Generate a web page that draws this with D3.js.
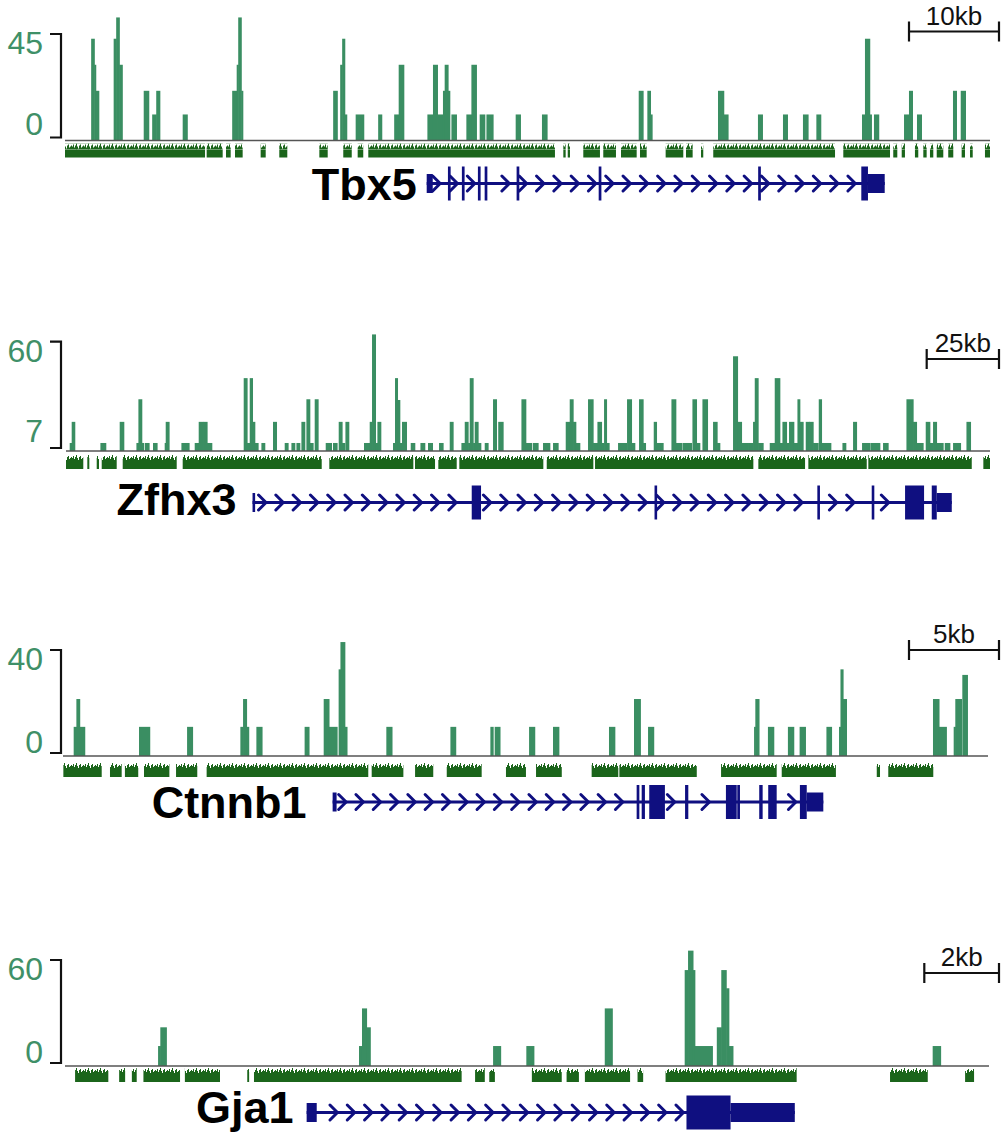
<!DOCTYPE html>
<html>
<head>
<meta charset="utf-8">
<script src="https://cdn.jsdelivr.net/npm/d3@7"></script>
<style>
  body { margin: 0; background: #fff; }
  svg { display: block; font-family: "Liberation Sans", Arial, sans-serif; }
</style>
</head>
<body>
<div id="chart"></div>
<script>
// ---- data (positions in kb from left edge of window, values = signal) ----
const tbx5Bars = [
  [2.94,3.28,43],[3.28,3.44,32],[3.44,3.78,21],
  [5.44,5.72,43],[5.72,6.06,52],[6.06,6.39,32],
  [8.78,9.33,21],
  [9.72,10.17,11],[10.17,10.56,21],
  [13.11,13.61,11],
  [18.61,19.11,21],[19.11,19.28,32],[19.28,19.61,52],[19.61,19.78,21],
  [29.83,30.28,21],
  [30.61,30.83,32],[30.83,31.11,43],[31.11,31.33,11],
  [32.33,33.22,11],
  [34.83,35.22,11],
  [36.61,37.11,11],[37.11,37.67,32],
  [40.30,40.92,11],[40.92,41.41,32],[41.41,42.03,11],[42.03,42.22,21],[42.22,42.59,32],[42.59,42.78,21],[42.97,43.52,11],
  [44.63,45.19,11],[45.19,45.74,32],[46.11,46.67,11],[46.86,47.59,11],
  [50.11,50.63,11],
  [53.03,53.59,11],
  [63.78,64.26,21],[64.74,65.08,21],[65.08,65.26,11],
  [72.59,73.22,21],[73.22,73.70,11],
  [77.03,77.52,11],
  [79.81,80.30,11],
  [82.03,82.59,11],
  [83.52,84.00,11],
  [88.59,88.92,11],[88.92,89.44,43],[89.44,89.63,11],[89.92,90.44,11],
  [93.26,93.81,11],[93.81,94.19,21],[94.70,95.19,11],
  [98.70,99.08,21],[99.56,100.08,21]
];
const tbx5Cons = [
  [0,15.56],[15.74,17.52],[17.89,18.41],[18.89,19.74],[21.74,22.30],[23.81,24.70],[28.26,29.19],
  [30.92,31.86],[32.52,33.14],[33.70,54.44],[55.37,55.63],[55.86,56.11],[57.59,59.44],[59.81,61.22],
  [61.78,63.52],[63.89,64.63],[66.74,68.70],[69.00,69.74],[70.67,70.92],[72.03,85.56],[86.48,91.67],
  [92.03,92.48],[92.97,93.33],[94.44,94.81],[95.37,95.74],[96.11,96.48],[96.86,97.59],[98.14,98.70],
  [99.63,100.0],[100.56,100.86],[102.22,102.78]
];
const tbx5Exons = [
  ["utr",40.19,40.86],["cds",42.55,42.85],["cds",44.1,44.4],["cds",45.88,46.18],["cds",46.63,46.93],
  ["cds",50.18,50.48],["cds",59.3,59.6],["cds",77.02,77.32],["cds",88.48,89.22],["utr",89.22,91.08]
];

const zfhx3Bars = [
  [1.38,2.07,4.4],[2.07,3.11,16],
  [12.0,13.83,4.4],
  [18.67,20.06,16],
  [24.45,25.14,4.4],[25.14,26.28,28.4],[26.28,26.97,4.4],[27.42,28.81,4.4],[30.19,31.57,4.4],
  [34.23,34.58,4.4],[34.58,35.72,16],
  [40.01,42.64,4.4],
  [44.61,45.99,4.4],[45.99,47.37,16],[47.48,48.86,16],[48.86,50.49,4.4],
  [61.55,62.69,40],[62.69,63.63,4.4],[63.63,64.56,40],[64.56,65.36,16],[65.36,66.5,4.4],[67.67,68.81,4.4],
  [71.68,72.86,16],[75.73,76.87,4.4],[78.05,79.19,4.4],[79.78,80.92,4.4],[81.5,82.64,16],[83.23,84.38,28.4],[84.38,85.52,4.4],[86.1,87.25,28.4],
  [89.91,91.88,4.4],[92.43,93.81,4.4],[94.4,95.54,16],[95.54,96.48,4.4],[96.72,97.86,16],
  [103.15,105.12,4.4],[105.12,105.92,16],[105.92,107.09,64],[107.09,107.78,4.4],[107.78,108.93,16],
  [113.18,113.87,4.4],[113.87,114.7,40],[114.7,115.5,28],[115.5,116.29,4.4],[116.29,117.81,16],
  [119.3,120.68,4.4],[122.66,124.14,4.4],[125.28,126.8,4.4],[129.09,130.47,4.4],[132.79,133.93,16],
  [136.83,137.98,4.4],[137.98,139.12,16],[139.12,139.71,4.4],[139.71,140.85,40],[140.85,141.43,4.4],[141.43,142.57,16],[142.57,143.51,4.4],[144.89,146.03,4.4],[147.76,148.93,28.4],[149.56,151.22,16],
  [157.58,159.07,28.4],[159.07,161.04,4.4],[161.49,163.32,4.4],[165.05,167.37,4.4],[168.51,170.24,4.4],
  [172.9,174.28,16],[174.28,175.43,28.4],[175.43,176.36,16],[176.36,177.74,4.4],
  [180.61,182.34,28.4],[182.34,183.86,4.4],[183.86,185.25,16],[185.25,186.15,4.4],[186.15,186.98,28.4],[186.98,187.88,4.4],
  [190.99,193.89,4.4],[194.1,195.62,28.4],[195.62,196.76,4.4],[198.25,199.63,28.4],[199.63,200.46,4.4],
  [203.33,204.26,16],[204.26,206.55,4.4],
  [209.45,210.94,28.4],[210.94,212.91,4.4],[213.25,216.36,4.4],[216.71,218.09,28.4],[218.09,219.23,4.4],[220.17,221.9,28.4],[223.84,225.22,16],[225.22,226.15,4.4],
  [230.75,232.28,52],[232.28,233.66,16],[233.66,235.94,4.4],[235.94,237.67,4.4],[237.67,238.26,16],[238.26,239.4,40],[239.4,241.13,4.4],
  [243.44,245.17,4.4],[245.17,246.9,40],[246.9,247.83,4.4],[247.83,249.22,16],[249.22,250.11,4.4],[250.11,251.74,16],[251.74,253.02,4.4],[253.02,253.82,28.4],[253.82,254.96,16],[255.89,257.03,16],[257.03,258.42,16],[258.42,260.15,4.4],[260.39,261.32,28.4],[261.32,264.54,4.4],
  [268.58,269.72,4.4],[272.25,273.43,16],[275.36,278.02,4.4],[278.27,281.48,4.4],[282.62,284.35,4.4],
  [290.71,292.99,28.4],[292.99,294.17,16],[294.17,296.45,4.4],[297.38,298.77,16],[298.77,299.91,4.4],[299.91,301.09,16],[301.09,303.37,4.4],[303.96,305.69,4.4],[306.83,309.39,4.4],[311.46,312.84,16]
];
const zfhx3Cons = [
  [0,5.98],[7.37,8.06],[10.62,11.41],[12.35,17.53],[19.61,38.28],[40.35,88.42],[91.05,120.1],
  [120.68,127.6],[128.74,135.1],[136.0,165.05],[166.23,182.34],[182.93,237.67],[239.4,255.55],
  [256.69,276.88],[277.43,313.19],[317.2,319.5]
];
const zfhx3Exons = [
  ["utr",64.5,65.0],["cds",140.29,143.51],["cds",203.5,204.3],["cds",259.8,260.6],["cds",278.6,279.4],
  ["cds",290.13,296.7],["cds",299.36,301.09],["utr",301.09,306.28]
];

const ctnnb1Bars = [
  [0.61,0.76,11],[0.76,0.94,21.5],[0.94,1.22,11],
  [4.24,4.83,11],
  [6.91,7.21,11],
  [9.87,10.02,11],[10.02,10.21,21.5],[10.21,10.33,11],
  [10.76,11.07,11],
  [13.44,13.68,11],
  [14.5,14.79,21.5],[14.79,15.24,11],[15.33,15.43,32.7],[15.43,15.67,43],[15.67,15.79,11],
  [17.98,18.29,11],
  [21.54,21.83,11],
  [23.76,23.91,11],[24.0,24.29,11],
  [25.91,26.22,11],
  [27.24,27.56,11],
  [30.35,30.67,11],
  [31.74,32.09,21.5],[32.52,32.83,11],
  [38.41,38.48,11],[38.48,38.68,21.5],
  [39.18,39.5,11],
  [40.29,40.61,11],[40.94,41.26,11],
  [42.43,42.71,11],
  [43.13,43.21,11],[43.21,43.35,32.7],[43.35,43.54,21.5],
  [48.35,48.68,21.5],[48.68,49.09,11],
  [49.5,49.59,11],[49.59,49.93,21.5],[49.98,50.26,30.6]
];
const ctnnb1Cons = [
  [0.02,2.15],[2.61,3.26],[3.44,4.18],[4.5,5.91],[6.28,7.46],[7.98,16.96],[17.15,18.91],[19.56,20.57],
  [21.32,23.26],[24.61,25.72],[26.28,27.71],[29.37,30.85],[30.91,35.21],[36.56,39.65],[39.93,42.94],
  [45.21,45.39],[45.85,48.35]
];
const ctnnb1Exons = [
  ["utr",14.98,15.2],["cds",31.87,32.02],["cds",32.15,32.33],["cds",32.57,33.44],["cds",34.56,34.74],
  ["cds",36.83,37.43],["cds",37.46,37.61],["cds",38.68,38.87],["cds",39.18,39.65],["cds",40.94,41.32],
  ["utr",41.32,42.24]
];

const gja1Bars = [
  [2.50,2.56,11.3],[2.56,2.72,21.9],
  [7.88,7.96,11.3],[7.96,8.08,32.6],[8.08,8.18,21.9],
  [11.47,11.67,11.3],
  [12.36,12.56,11.3],
  [14.46,14.66,32.6],
  [16.6,16.69,54.3],[16.69,16.82,65.3],[16.82,16.87,54.3],[16.87,17.34,11.3],
  [17.46,17.58,21.9],[17.58,17.71,54.3],[17.71,17.78,44],[17.78,17.89,11.3],
  [23.24,23.45,11.3]
];
const gja1Cons = [
  [0.27,1.16],[1.45,1.61],[1.79,1.92],[2.1,3.08],[3.21,4.15],[4.88,4.93],[5.06,10.62],[10.98,11.24],
  [11.36,11.51],[12.5,13.3],[13.43,13.76],[13.92,15.13],[15.33,15.48],[16.08,19.59],[22.09,23.1],[24.1,24.34]
];
const gja1Exons = [["utr",6.47,6.74],["cds",16.64,17.82],["utr",17.82,19.54]];

const geneNames = ["Tbx5", "Zfhx3", "Ctnnb1", "Gja1"];
const spansKb = [102.78, 319.5, 51.39, 24.74];
const axisLabels = [[0, 45], [7, 60], [0, 40], [0, 60]];
const scaleKb = [10, 25, 5, 2];

// ---- layout (pixels) ----
const layout = [
  { x0: 65, x1: 990, baseY: 140.5, topY: 34,    lowLab: 135,  consOff: 3, geneY: 183.5,  labelY: 200,  labelGap: 10, scaleY: 31.5 },
  { x0: 66, x1: 990, baseY: 451,   topY: 341.7, lowLab: 441.5, consOff: 4, geneY: 502.5,  labelY: 515,  labelGap: 16, scaleY: 359 },
  { x0: 63, x1: 988, baseY: 756,   topY: 650,   lowLab: 752.5, consOff: 7, geneY: 802,    labelY: 818,  labelGap: 26, scaleY: 650 },
  { x0: 65, x1: 989, baseY: 1066,  topY: 960,   lowLab: 1062.5, consOff: 2, geneY: 1112.5, labelY: 1123, labelGap: 13, scaleY: 973 }
];

const panels = [
  { bars: tbx5Bars,   cons: tbx5Cons,   exons: tbx5Exons },
  { bars: zfhx3Bars,  cons: zfhx3Cons,  exons: zfhx3Exons },
  { bars: ctnnb1Bars, cons: ctnnb1Cons, exons: ctnnb1Exons },
  { bars: gja1Bars,   cons: gja1Cons,   exons: gja1Exons }
].map((p, i) => Object.assign(p, layout[i], {
  name: geneNames[i], span: spansKb[i], labels: axisLabels[i], scale: scaleKb[i]
}));

const BAR = "#3a8e62";
const LABEL = "#3f9068";
const CONS = "#1b651b";
const GENE = "#0f0f80";

function drawPanel(svg, p) {
  const x = d3.scaleLinear().domain([0, p.span]).range([p.x0, p.x1]);
  const y = d3.scaleLinear().domain([0, p.labels[1]]).range([p.baseY, p.topY]);
  const g = svg.append("g");

  // signal bars
  g.selectAll("rect.bar")
    .data(p.bars)
    .join("rect")
    .attr("class", "bar")
    .attr("x", d => x(d[0]) - 0.3)
    .attr("width", d => Math.max(1.2, x(d[1]) - x(d[0]) + 0.6))
    .attr("y", d => y(d[2]))
    .attr("height", d => y(0) - y(d[2]))
    .attr("fill", BAR);

  // baseline
  g.append("line")
    .attr("x1", x(0)).attr("x2", x(p.span))
    .attr("y1", y(0)).attr("y2", y(0))
    .attr("stroke", "#555").attr("stroke-width", 1.5);

  // bracket axis
  const bx = 61, top = y(p.labels[1]), bot = y(0) - 3;
  g.append("path")
    .attr("d", `M${bx - 11},${top}H${bx}V${bot}H${bx - 11}`)
    .attr("fill", "none").attr("stroke", "#111").attr("stroke-width", 2.2);
  g.append("text")
    .attr("x", 43).attr("y", top + 20)
    .attr("text-anchor", "end").attr("font-size", 32).attr("fill", LABEL)
    .text(p.labels[1]);
  g.append("text")
    .attr("x", 43).attr("y", p.lowLab)
    .attr("text-anchor", "end").attr("font-size", 32).attr("fill", LABEL)
    .text(p.labels[0]);

  // conservation track
  const c = g.append("g").attr("transform", `translate(0,${p.baseY + p.consOff})`);
  c.selectAll("rect.jag")
    .data(p.cons)
    .join("rect")
    .attr("class", "jag")
    .attr("x", d => x(d[0])).attr("width", d => Math.max(1.5, x(d[1]) - x(d[0])))
    .attr("y", 0).attr("height", 6)
    .attr("fill", "url(#jag)");
  c.selectAll("rect.solid")
    .data(p.cons)
    .join("rect")
    .attr("class", "solid")
    .attr("x", d => x(d[0])).attr("width", d => Math.max(1.5, x(d[1]) - x(d[0])))
    .attr("y", 6).attr("height", 8)
    .attr("fill", CONS);

  // gene model
  const gs = d3.min(p.exons, d => d[1]);
  const ge = d3.max(p.exons, d => d[2]);
  const gy = p.geneY;
  g.append("line")
    .attr("x1", x(gs)).attr("x2", x(ge))
    .attr("y1", gy).attr("y2", gy)
    .attr("stroke", GENE).attr("stroke-width", 2.8);

  const chev = d3.range(x(gs) + 10, x(ge) - 3, 17.3)
    .filter(cx => !p.exons.some(e => cx > x(e[1]) - 4 && cx < x(e[2]) + 2));
  g.selectAll("path.chev")
    .data(chev)
    .join("path")
    .attr("class", "chev")
    .attr("d", cx => `M${cx - 4},${gy - 7.5}L${cx + 3.5},${gy}L${cx - 4},${gy + 7.5}`)
    .attr("fill", "none").attr("stroke", GENE).attr("stroke-width", 3)
    .attr("stroke-linecap", "round").attr("stroke-linejoin", "round");

  g.selectAll("rect.exon")
    .data(p.exons)
    .join("rect")
    .attr("class", "exon")
    .attr("x", d => x(d[1]))
    .attr("width", d => Math.max(2.6, x(d[2]) - x(d[1])))
    .attr("y", d => gy - (d[0] === "cds" ? 17 : 9.5))
    .attr("height", d => d[0] === "cds" ? 34 : 19)
    .attr("fill", GENE);

  g.append("text")
    .attr("x", x(gs) - p.labelGap).attr("y", p.labelY)
    .attr("text-anchor", "end").attr("font-size", 45).attr("font-weight", "bold")
    .attr("fill", "#000")
    .text(p.name);

  // scale bar
  const sr = 999, sl = sr - (x(p.scale) - x(0));
  g.append("path")
    .attr("d", `M${sl},${p.scaleY - 10}V${p.scaleY + 10}M${sl},${p.scaleY}H${sr}M${sr},${p.scaleY - 10}V${p.scaleY + 10}`)
    .attr("fill", "none").attr("stroke", "#111").attr("stroke-width", 2.2);
  g.append("text")
    .attr("x", (sl + sr) / 2).attr("y", p.scaleY - 7)
    .attr("text-anchor", "middle").attr("font-size", 26).attr("fill", "#111")
    .text(p.scale + "kb");
}

function draw() {
  const svg = d3.select("#chart").append("svg")
    .attr("width", 1003).attr("height", 1137);

  // jagged texture for the top edge of the conservation track
  const pat = svg.append("defs").append("pattern")
    .attr("id", "jag").attr("patternUnits", "userSpaceOnUse")
    .attr("width", 12).attr("height", 6);
  [3, 5, 2, 4, 6, 3, 1, 4, 5, 2, 3, 4].forEach((h, i) => {
    pat.append("rect").attr("x", i).attr("y", 6 - h).attr("width", 1).attr("height", h).attr("fill", CONS);
  });

  panels.forEach(p => drawPanel(svg, p));
}

draw();
</script>
</body>
</html>
